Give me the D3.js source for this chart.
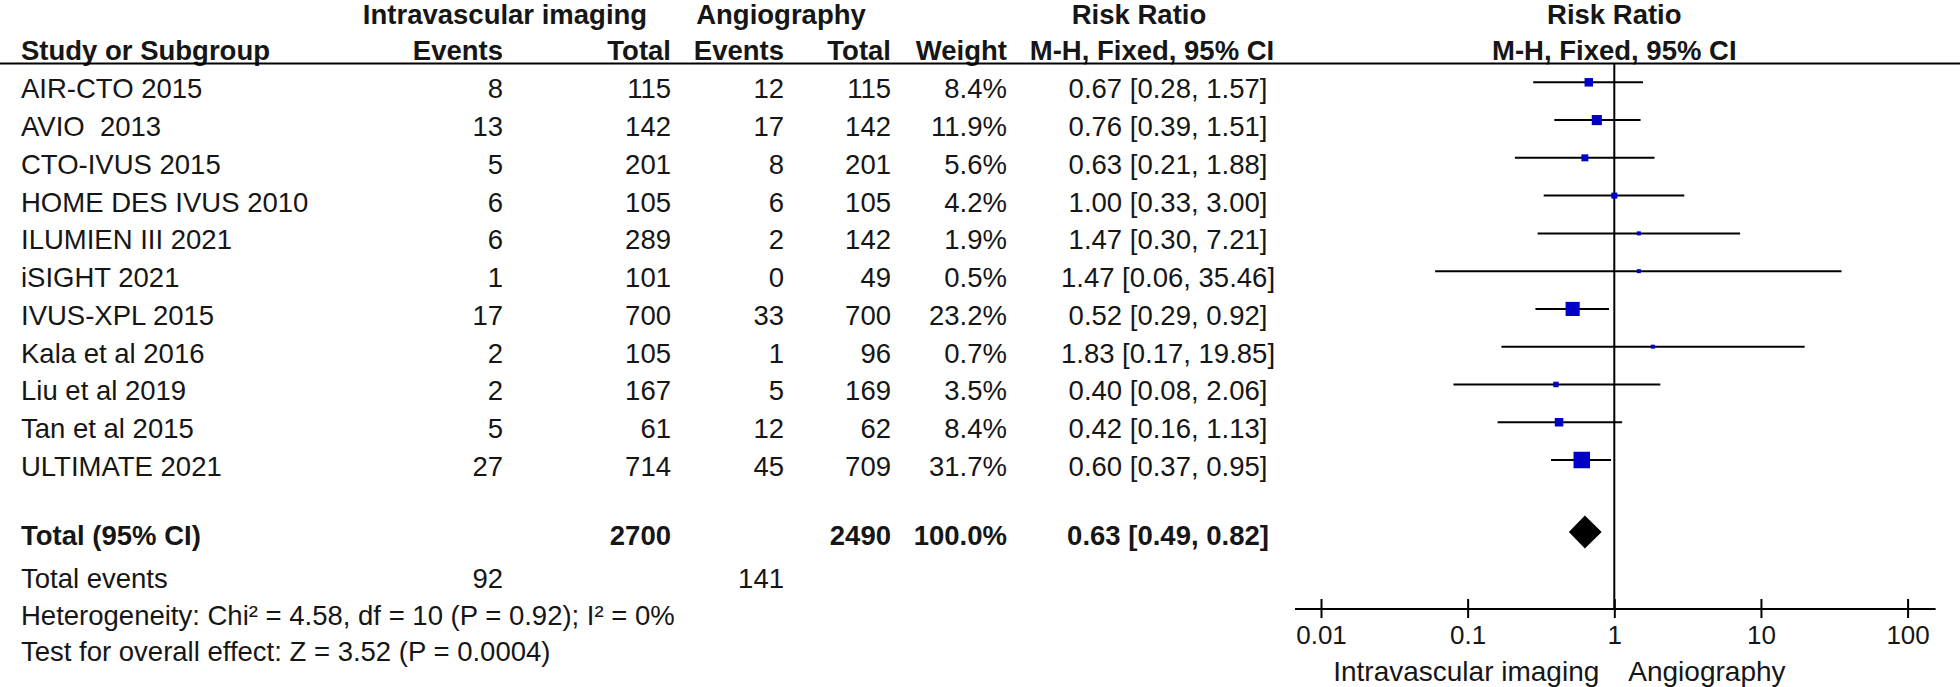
<!DOCTYPE html>
<html>
<head>
<meta charset="utf-8">
<script src="https://cdn.jsdelivr.net/npm/d3@7"></script>
<style>
    body { margin: 0; background: #fff; }
    svg text { font-family: "Liberation Sans", Arial, sans-serif; fill: #161616; white-space: pre; }
</style>
</head>
<body>
<div id="container"></div>
<script>
// study data
const studies = ["AIR-CTO 2015", "AVIO  2013", "CTO-IVUS 2015", "HOME DES IVUS 2010", "ILUMIEN III 2021",
    "iSIGHT 2021", "IVUS-XPL 2015", "Kala et al 2016", "Liu et al 2019", "Tan et al 2015", "ULTIMATE 2021"];
const ivEvents = [8, 13, 5, 6, 6, 1, 17, 2, 2, 5, 27];
const ivTotal = [115, 142, 201, 105, 289, 101, 700, 105, 167, 61, 714];
const angEvents = [12, 17, 8, 6, 2, 0, 33, 1, 5, 12, 45];
const angTotal = [115, 142, 201, 105, 142, 49, 700, 96, 169, 62, 709];
const weights = [8.4, 11.9, 5.6, 4.2, 1.9, 0.5, 23.2, 0.7, 3.5, 8.4, 31.7];
const ratios = [0.67, 0.76, 0.63, 1.00, 1.47, 1.47, 0.52, 1.83, 0.40, 0.42, 0.60];
const lowers = [0.28, 0.39, 0.21, 0.33, 0.30, 0.06, 0.29, 0.17, 0.08, 0.16, 0.37];
const uppers = [1.57, 1.51, 1.88, 3.00, 7.21, 35.46, 0.92, 19.85, 2.06, 1.13, 0.95];

// pooled result
const pooled = [0.63, 0.49, 0.82];
const pooledTotals = [2700, 2490];
const pooledEvents = [92, 141];
const heterogeneityText = "Heterogeneity: Chi\u00b2 = 4.58, df = 10 (P = 0.92); I\u00b2 = 0%";
const overallText = "Test for overall effect: Z = 3.52 (P = 0.0004)";

// axis
const tickValues = [0.01, 0.1, 1, 10, 100];
const tickLabels = ["0.01", "0.1", "1", "10", "100"];
const favoursLabels = ["Intravascular imaging", "Angiography"];

const width = 1960, height = 687;
const fontSize = 27.5;
const markColor = "#0000c8";

const svg = d3.select("#container").append("svg")
    .attr("width", width)
    .attr("height", height);

// scales
const x = d3.scaleLog().domain([0.01, 100]).range([1321, 1907.6]);
const rowY = d3.scaleLinear().domain([0, studies.length - 1]).range([82.3, 460]);
const boxSize = d3.scaleSqrt().domain([0, d3.max(weights)]).range([0, 16.5]);

function box(i) {
    // smallest boxes stay visible as in RevMan
    return Math.max(4, boxSize(weights[i]));
}

function addText(str, px, py, anchor, bold, size) {
    return svg.append("text")
        .attr("x", px)
        .attr("y", py)
        .attr("text-anchor", anchor || "start")
        .style("font-size", (size || fontSize) + "px")
        .style("font-weight", bold ? "bold" : "normal")
        .text(str);
}

function drawHeader() {
    // group headers
    addText("Intravascular imaging", 505, 24, "middle", true);
    addText("Angiography", 781, 24, "middle", true);
    addText("Risk Ratio", 1139, 24, "middle", true);
    addText("Risk Ratio", x(1), 24, "middle", true);

    // column headers
    addText("Study or Subgroup", 21, 59.5, "start", true);
    addText("Events", 503, 59.5, "end", true);
    addText("Total", 671, 59.5, "end", true);
    addText("Events", 784, 59.5, "end", true);
    addText("Total", 891, 59.5, "end", true);
    addText("Weight", 1007, 59.5, "end", true);
    addText("M-H, Fixed, 95% CI", 1152, 59.5, "middle", true);
    addText("M-H, Fixed, 95% CI", x(1), 59.5, "middle", true);

    // underline across the whole table
    svg.append("line")
        .attr("x1", 0).attr("x2", width)
        .attr("y1", 63.5).attr("y2", 63.5)
        .attr("stroke", "#000")
        .attr("stroke-width", 2);
}

function drawRows() {
    studies.forEach(function(name, i) {
        const base = rowY(i) + 16;
        addText(name, 21, base, "start");
        addText(String(ivEvents[i]), 503, base, "end");
        addText(String(ivTotal[i]), 671, base, "end");
        addText(String(angEvents[i]), 784, base, "end");
        addText(String(angTotal[i]), 891, base, "end");
        addText(weights[i].toFixed(1) + "%", 1007, base, "end");
        addText(`${ratios[i].toFixed(2)} [${lowers[i].toFixed(2)}, ${uppers[i].toFixed(2)}]`, 1168, base, "middle");
    });

    // totals
    addText("Total (95% CI)", 21, 545, "start", true);
    addText(String(pooledTotals[0]), 671, 545, "end", true);
    addText(String(pooledTotals[1]), 891, 545, "end", true);
    addText("100.0%", 1007, 545, "end", true);
    addText(`${pooled[0].toFixed(2)} [${pooled[1].toFixed(2)}, ${pooled[2].toFixed(2)}]`, 1168, 545, "middle", true);

    addText("Total events", 21, 588, "start");
    addText(String(pooledEvents[0]), 503, 588, "end");
    addText(String(pooledEvents[1]), 784, 588, "end");
    addText(heterogeneityText, 21, 625, "start");
    addText(overallText, 21, 661, "start");
}

function drawForest() {
    const axisY = 609;

    // line of no effect
    svg.append("line")
        .attr("x1", x(1)).attr("x2", x(1))
        .attr("y1", 63.5).attr("y2", axisY)
        .attr("stroke", "#000")
        .attr("stroke-width", 2);

    const rows = svg.append("g").selectAll("g")
        .data(studies)
        .join("g");

    // confidence intervals
    rows.append("line")
        .attr("x1", (d, i) => x(lowers[i]))
        .attr("x2", (d, i) => x(uppers[i]))
        .attr("y1", (d, i) => rowY(i))
        .attr("y2", (d, i) => rowY(i))
        .attr("stroke", "#000")
        .attr("stroke-width", 2);

    // weight boxes
    rows.append("rect")
        .attr("x", (d, i) => x(ratios[i]) - box(i) / 2)
        .attr("y", (d, i) => rowY(i) - box(i) / 2)
        .attr("width", (d, i) => box(i))
        .attr("height", (d, i) => box(i))
        .attr("fill", markColor);

    // pooled diamond
    const dy = 532, dh = 16.5;
    svg.append("polygon")
        .attr("points", [
            [x(pooled[1]), dy], [x(pooled[0]), dy - dh],
            [x(pooled[2]), dy], [x(pooled[0]), dy + dh]
        ].map(p => p.join(",")).join(" "))
        .attr("fill", "#000");

    // axis
    const axis = d3.axisBottom(x)
        .tickValues(tickValues)
        .tickFormat((d, i) => tickLabels[i])
        .tickSize(9)
        .tickSizeOuter(0);

    const g = svg.append("g")
        .attr("transform", `translate(0,${axisY})`)
        .call(axis);

    g.select(".domain").remove();
    g.append("line")
        .attr("x1", x.range()[0] - 26).attr("x2", x.range()[1] + 28)
        .attr("stroke", "#000")
        .attr("stroke-width", 2);
    g.selectAll(".tick line")
        .attr("y1", -10)
        .attr("stroke", "#000")
        .attr("stroke-width", 2);
    g.selectAll(".tick text")
        .attr("y", 35)
        .attr("dy", 0)
        .attr("fill", "#161616")
        .style("font-size", "26px")
        .style("font-family", "'Liberation Sans', Arial, sans-serif");

    // favours labels
    addText(favoursLabels[0], x(1) - 15, 681, "end", false, 28);
    addText(favoursLabels[1], x(1) + 14, 681, "start", false, 28);
}

drawHeader();
drawRows();
drawForest();
</script>
</body>
</html>
